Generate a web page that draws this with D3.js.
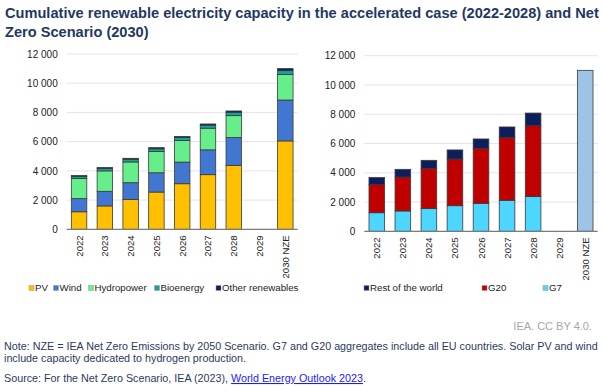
<!DOCTYPE html>
<html><head><meta charset="utf-8">
<script src="https://cdn.jsdelivr.net/npm/d3@7"></script>
<style>
body{margin:0;background:#fff;}
svg{display:block;font-family:"Liberation Sans",Arial,sans-serif;}
</style></head><body>
<svg id="c" width="604" height="392"></svg>
<script>
const categories = ["2022","2023","2024","2025","2026","2027","2028","2029","2030 NZE"];
const yTicks = [0,2000,4000,6000,8000,10000,12000];
// Left: technology
const techKeys = ["PV","Wind","Hydropower","Bioenergy","Other renewables"];
const pv    = [1200,1600,2050,2550,3120,3740,4380,null,6050];
const wind  = [900,1000,1140,1320,1480,1700,1900,null,2800];
const hydro = [1370,1400,1420,1450,1480,1480,1500,null,1750];
const bio   = [150,160,180,190,200,210,230,null,260];
const other = [60,70,70,80,80,80,90,null,140];
// Right: region
const regionKeys = ["G7","G20","Rest of the world","NZE"];
const g7   = [1270,1390,1550,1750,1910,2120,2370,null,null];
const g20  = [1920,2320,2750,3190,3740,4280,4850,null,null];
const row  = [480,525,550,620,660,730,860,null,null];
const nze  = [null,null,null,null,null,null,null,null,11000];

const techColors = {"PV":"#ffc000","Wind":"#4277d1","Hydropower":"#66ee8a","Bioenergy":"#14a39a","Other renewables":"#0c1f5c"};
const regionColors = {"G7":"#4dd6ff","G20":"#c00000","Rest of the world":"#0c1f5c","NZE":"#9dc3e6"};

const svg = d3.select("#c");
const navy = "#1f3864";

// Title
svg.append("text").attr("x",5).attr("y",18).attr("font-size",14.6).attr("font-weight","bold").attr("fill",navy)
  .text("Cumulative renewable electricity capacity in the accelerated case (2022-2028) and Net");
svg.append("text").attr("x",5).attr("y",37).attr("font-size",14.6).attr("font-weight","bold").attr("fill",navy)
  .text("Zero Scenario (2030)");

function panel(x0,x1,y0,y1,rows,keys,colors){
  const x = d3.scaleBand().domain(categories).range([x0,x1]).paddingInner(0.4).paddingOuter(0.18);
  const y = d3.scaleLinear().domain([0,12000]).range([y0,y1]);
  const g = svg.append("g");
  // grid
  g.selectAll("line.grid").data(yTicks.filter(t=>t>0)).join("line")
    .attr("x1",x0).attr("x2",x1).attr("y1",d=>y(d)).attr("y2",d=>y(d))
    .attr("stroke","#e4e4e4").attr("stroke-width",1);
  // y axis labels
  const ya = d3.axisLeft(y).tickValues(yTicks).tickSize(0).tickPadding(0)
    .tickFormat(d=>d3.format(",")(d).replace(","," "));
  const yg = g.append("g").attr("transform",`translate(${x0-9},0)`).call(ya);
  yg.select(".domain").remove();
  yg.selectAll("text").attr("font-size",10).attr("fill","#222").attr("font-family","Liberation Sans, Arial, sans-serif");
  // stacked
  const stack = d3.stack().keys(keys).value((d,k)=>d[k]||0);
  const series = stack(rows);
  series.forEach(s=>{
    g.selectAll(null).data(s.filter(d=>(d.data[s.key]||0)>0)).join("rect")
      .attr("x",d=>x(d.data.cat)).attr("width",x.bandwidth())
      .attr("y",d=>y(d[1])).attr("height",d=>y(d[0])-y(d[1]))
      .attr("fill",colors[s.key]).attr("stroke","#3a3a3a").attr("stroke-width",0.8);
  });
  // baseline
  g.append("line").attr("x1",x0).attr("x2",x1).attr("y1",y(0)).attr("y2",y(0)).attr("stroke","#7a7a7a").attr("stroke-width",1.2);
  // x axis labels
  const xa = d3.axisBottom(x).tickSize(0).tickPadding(0);
  const xg = g.append("g").attr("transform",`translate(0,${y(0)})`).call(xa);
  xg.select(".domain").remove();
  xg.selectAll("text").attr("font-size",9.6).attr("fill","#222").attr("font-family","Liberation Sans, Arial, sans-serif")
    .attr("text-anchor","end").attr("dy",null).attr("y",null)
    .attr("transform","translate(3.5,6) rotate(-90)");
  return {x,y};
}

const rowsL = categories.map((c,i)=>({cat:c,"PV":pv[i],"Wind":wind[i],"Hydropower":hydro[i],"Bioenergy":bio[i],"Other renewables":other[i]}));
const rowsR = categories.map((c,i)=>({cat:c,"G7":g7[i],"G20":g20[i],"Rest of the world":row[i],"NZE":nze[i]}));
panel(66.7,297.7,229.3,54,rowsL,techKeys,techColors);
panel(364.3,597.7,231.3,55.7,rowsR,regionKeys,regionColors);

// legends
function legend(items, xs, y){
  items.forEach((it,i)=>{
    svg.append("rect").attr("x",xs[i]).attr("y",y-5.5).attr("width",5).attr("height",5)
      .attr("fill",it.c).attr("stroke","#999").attr("stroke-width",0.5);
    svg.append("text").attr("x",xs[i]+6).attr("y",y).attr("font-size",9.7).attr("fill","#222").text(it.t);
  });
}
legend(techKeys.map(k=>({t:k,c:techColors[k]})), [29,53.5,88.5,154.5,216], 291);
legend([{t:"Rest of the world",c:regionColors["Rest of the world"]},{t:"G20",c:regionColors["G20"]},{t:"G7",c:regionColors["G7"]}], [364,482,543], 291);

svg.append("text").attr("x",592).attr("y",330).attr("text-anchor","end").attr("font-size",11).attr("fill","#a6a6a6").text("IEA. CC BY 4.0.");
const noteColor = "#2b3a5e";
svg.append("text").attr("x",4).attr("y",350).attr("font-size",10.75).attr("fill",noteColor)
  .text("Note: NZE = IEA Net Zero Emissions by 2050 Scenario. G7 and G20 aggregates include all EU countries. Solar PV and wind");
svg.append("text").attr("x",4).attr("y",362).attr("font-size",10.75).attr("fill",noteColor)
  .text("include capacity dedicated to hydrogen production.");
const src = svg.append("text").attr("x",4).attr("y",382).attr("font-size",10.75).attr("fill",noteColor);
src.append("tspan").text("Source: For the Net Zero Scenario, IEA (2023), ");
src.append("tspan").attr("fill","#1a1aff").attr("text-decoration","underline").text("World Energy Outlook 2023");
src.append("tspan").text(".");
</script></body></html>
